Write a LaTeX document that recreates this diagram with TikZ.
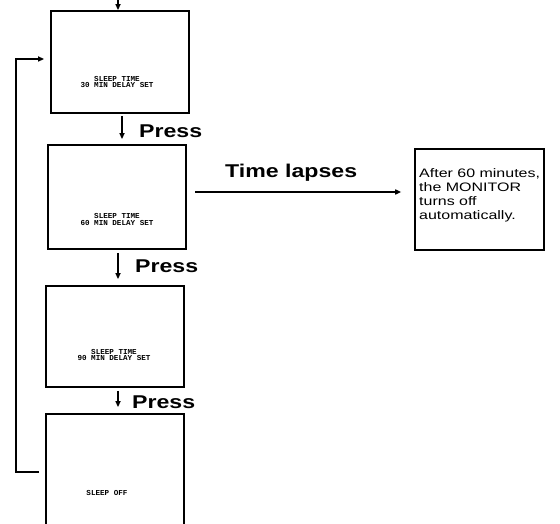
\documentclass[tikz,border=0pt]{standalone}
\usepackage{fontspec}
\setmainfont{Liberation Sans}
\newfontfamily\lsans{Liberation Sans}
\newfontfamily\lmono{Liberation Mono}
\usetikzlibrary{arrows.meta,calc}
\tikzset{
  screen/.style={draw, line width=1.8pt, minimum width=138pt, inner sep=0pt},
  scrtext/.style={font=\lmono\bfseries\fontsize{7.6}{6.8}\selectfont, align=center, inner sep=0pt},
  presslab/.style={anchor=base west, inner sep=0pt, font=\lsans\bfseries\fontsize{18.5}{18.5}\selectfont},
  arr/.style={line width=1.5pt, -{Triangle[length=6pt,width=5pt]}},
  notebox/.style={draw, line width=1.6pt, minimum width=129pt, minimum height=101pt, inner sep=0pt},
  notetext/.style={anchor=north west, align=left, inner sep=0pt, font=\lsans\fontsize{12.3}{14.2}\selectfont}
}
\newcommand{\wide}[1]{\scalebox{1.25}[1]{#1}}
\newcommand{\nwide}[1]{\scalebox{1.3}[1]{#1}}
\begin{document}
\begin{tikzpicture}[x=1pt,y=-1pt]
\useasboundingbox (0,0) rectangle (560,524);
\clip (0,0) rectangle (560,524);
% screens
\node[screen, minimum height=102pt] (b1) at (120,62) {};
\node[screen, minimum height=104pt] (b2) at (117,197) {};
\node[screen, minimum height=101pt] (b3) at (115,336.5) {};
\node[screen, minimum height=116pt] (b4) at (115,472) {};
\node[scrtext] (t1) at (117,82) {SLEEP TIME\\30 MIN DELAY SET};
\node[scrtext] (t2) at (117,219.5) {SLEEP TIME\\60 MIN DELAY SET};
\node[scrtext] (t3) at (114,355) {SLEEP TIME\\90 MIN DELAY SET};
\node[scrtext] (t4) at (107,493) {SLEEP OFF};
% top incoming arrow
\coordinate (top) at (118,0);
\draw[arr] (top) -- (top |- b1.north);
% press arrows
\draw[arr, shorten <=2pt, shorten >=5pt] ([xshift=2pt]b1.south) -- ([xshift=2pt]b1.south |- b2.north);
\draw[arr, shorten <=3pt, shorten >=6pt] ([xshift=1pt]b2.south) -- ([xshift=1pt]b2.south |- b3.north);
\draw[arr, shorten <=3pt, shorten >=6pt] ([xshift=3pt]b3.south) -- ([xshift=3pt]b3.south |- b4.north);
\node[presslab] (p1) at (139,138) {\wide{Press}};
\node[presslab] (p2) at (135,272) {\wide{Press}};
\node[presslab] (p3) at (132,408) {\wide{Press}};
% feedback loop
\draw[arr] ([xshift=-6pt]b4.west) -- ++(-23,0) |- ([xshift=-6pt,yshift=3pt]b1.west);
% time lapses
\node[notebox] (b5) at (479.5,199.5) {};
\node[notetext] (n5) at (419,168) {\nwide{After 60 minutes,}\\\nwide{the MONITOR}\\\nwide{turns off}\\\nwide{automatically.}};
\node[presslab] (tl) at (225,178) {\wide{Time lapses}};
\coordinate (ts) at (195,192);
\draw[arr, shorten >=13pt] (ts) -- (ts -| b5.west);
\end{tikzpicture}
\end{document}
